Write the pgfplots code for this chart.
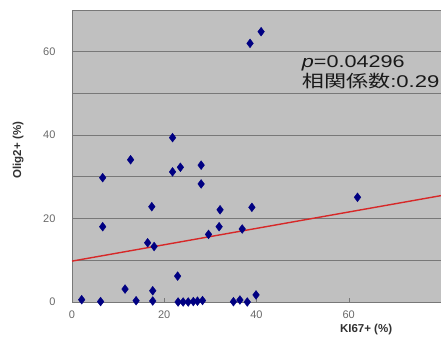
\documentclass[border=0pt]{standalone}
\usepackage{fontspec}
\setmainfont{Liberation Sans}
\newfontfamily\cjk{Noto Sans CJK JP}
\usepackage{graphicx}
\usepackage{pgfplots}
\pgfplotsset{compat=1.18}
\definecolor{bg}{RGB}{192,192,192}
\definecolor{gridc}{RGB}{120,120,120}
\definecolor{tickc}{RGB}{105,105,105}
\definecolor{labc}{RGB}{50,50,50}
\definecolor{navy}{RGB}{0,0,130}
\definecolor{regr}{RGB}{215,40,40}
\begin{document}
\begin{tikzpicture}[x=1pt,y=1pt]
\begin{axis}[
  at={(72pt,45pt)}, anchor=south west,
  scale only axis, width=369pt, height=292pt,
  xmin=0, xmax=80, ymin=0, ymax=70,
  clip=false,
  axis background/.style={fill=bg},
  axis x line=bottom, axis y line=left,
  axis line style={-, draw=gridc, line width=0.8pt},
  xtick={0,20,40,60,80}, xticklabels={0,20,40,60,},
  ytick={0,20,40,60}, minor ytick={10,30,50,70},
  ymajorgrids, yminorgrids,
  major grid style={draw=gridc, line width=0.8pt},
  minor grid style={draw=gridc, line width=0.8pt},
  tick align=inside,
  major tick length=4pt,
  x tick style={draw=gridc},
  y tick style={draw=none},
  minor tick length=0pt,
  tick label style={font=\fontsize{11}{12}\selectfont, text=tickc},
  yticklabel style={xshift=-13pt},
  xticklabel style={yshift=-5pt},
  /pgf/number format/assume math mode=true,
  xlabel={\textbf{KI67+ (\%)}},
  ylabel={\textbf{Olig2+ (\%)}},
  label style={font=\fontsize{11.5}{13}\selectfont, text=labc},
  xlabel style={at={(axis description cs:0.797,-0.093)}, anchor=center},
  ylabel style={at={(axis description cs:-0.146,0.52)}, anchor=center},
]
\addplot[only marks, mark=diamond*, mark size=4.4pt, mark options={draw=navy, fill=navy}] coordinates {
(2.1,0.55) (6.2,0.1) (6.65,29.8) (6.65,18.05) (11.5,3.1) (13.9,0.3)
(12.7,34.1) (17.3,22.85) (16.4,14.2) (17.8,13.3) (17.5,2.7) (17.5,0.24)
(22.9,6.2) (21.8,39.4) (21.8,31.2) (23.5,32.3) (28.0,32.8) (28.0,28.3)
(23.0,0) (24.1,0) (25.2,0) (26.3,0.1) (27.2,0.2) (28.3,0.35)
(29.6,16.2) (32.1,22.1) (31.9,18.05) (39.0,22.7) (36.9,17.5)
(35.0,0.07) (36.4,0.48) (38.0,0) (39.9,1.7)
(61.9,25.1) (38.6,62.0) (41.0,64.8)
};
\addplot[regr, line width=1.4pt] coordinates {(0,9.8) (80,25.5)};
\node[anchor=base west, inner sep=0pt, text=black!90, font=\fontsize{17}{20}\selectfont] at (axis cs:49.8,56.3) {\scalebox{1.27}[1]{\textit{p}=0.04296}};
\node[anchor=base west, inner sep=0pt, text=black!90, font=\fontsize{17}{20}\selectfont] at (axis cs:49.8,51.5) {\scalebox{1.3}[1]{{\cjk 相関係数}:0.29}};
\end{axis}
\pgfresetboundingbox
\path[use as bounding box] (0,0) rectangle (441pt,347pt);
\end{tikzpicture}
\end{document}
